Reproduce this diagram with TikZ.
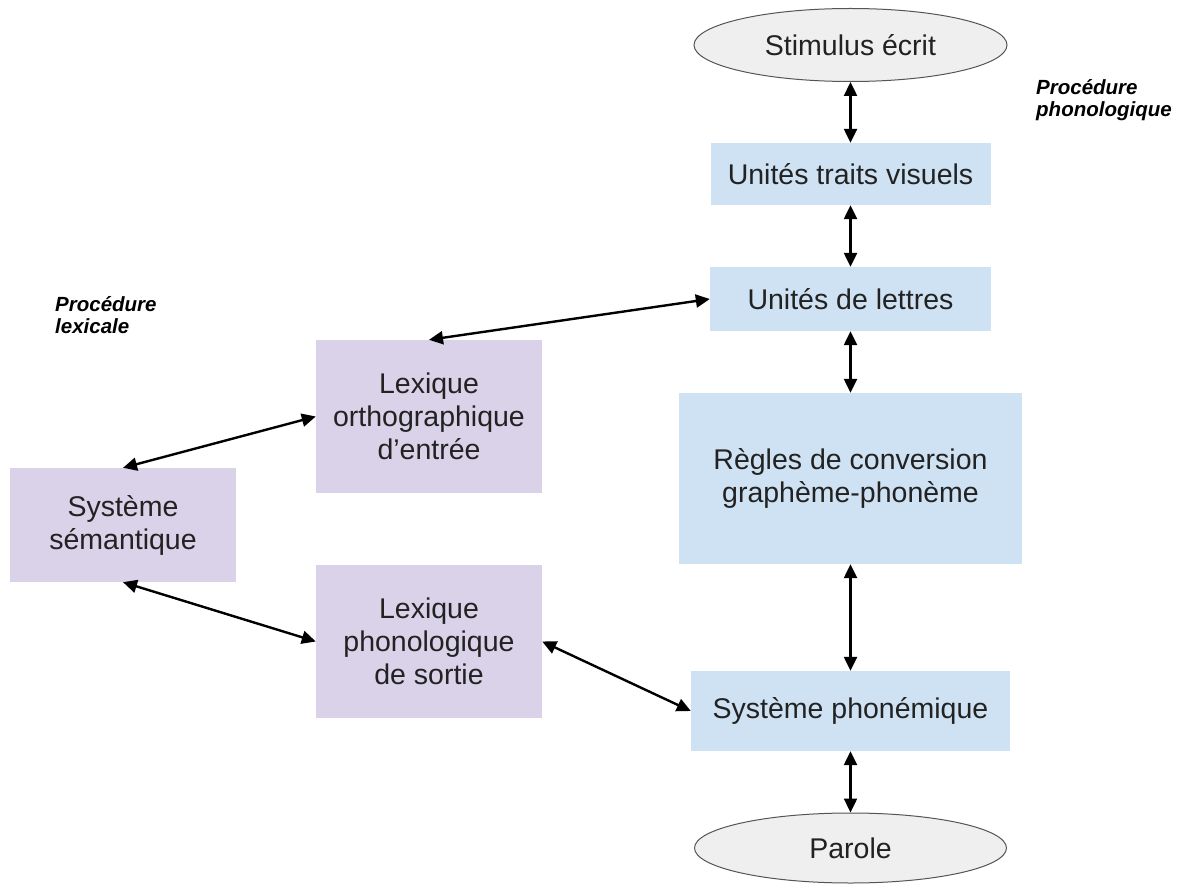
\documentclass[tikz,border=0pt]{standalone}
\usepackage{fontspec}
\setmainfont{Liberation Sans}
\usetikzlibrary{shapes.geometric,arrows.meta}
\definecolor{bluebox}{HTML}{CFE2F3}
\definecolor{purplebox}{HTML}{D9D2E9}
\definecolor{ellfill}{HTML}{EFEFEF}
\definecolor{ellline}{HTML}{555555}
\definecolor{txt}{HTML}{222222}
\tikzset{
  every node/.style={font=\fontsize{28.5}{33}\selectfont, text=txt, align=center, inner sep=0pt},
  bluenode/.style={rectangle, fill=bluebox},
  purplenode/.style={rectangle, fill=purplebox},
  ellnode/.style={ellipse, fill=ellfill, draw=ellline, line width=1pt},
  conn/.style={line width=2.4pt, {Triangle[length=14pt,width=13pt]}-{Triangle[length=14pt,width=13pt]}},
  lbl/.style={font=\fontsize{20.5}{22}\selectfont\bfseries\itshape, align=left, text=black, anchor=north west}
}
\begin{document}
\begin{tikzpicture}[x=1pt,y=-1pt]
\useasboundingbox (0,0) rectangle (1183,885);
\fill[white] (0,0) rectangle (1183,885);
\node[ellnode, minimum width=313pt, minimum height=73pt] (stim) at (850.5,45) {Stimulus écrit};
\node[bluenode, minimum width=280pt, minimum height=62pt] (utv) at (850.5,174) {Unités traits visuels};
\node[bluenode, minimum width=281pt, minimum height=64pt] (ul) at (850.5,299) {Unités de lettres};
\node[bluenode, minimum width=343pt, minimum height=171pt] (regles) at (850.5,478.5) {Règles de conversion\\graphème-phonème};
\node[bluenode, minimum width=319pt, minimum height=80pt] (sphon) at (850.5,711) {Système phonémique};
\node[ellnode, minimum width=312pt, minimum height=70pt] (parole) at (850.5,848) {Parole};
\node[purplenode, minimum width=226pt, minimum height=153pt] (lortho) at (429,416.5) {Lexique\\orthographique\\d’entrée};
\node[purplenode, minimum width=226pt, minimum height=114pt] (ssem) at (123,525) {Système\\sémantique};
\node[purplenode, minimum width=226pt, minimum height=153pt] (lphon) at (429,641.5) {Lexique\\phonologique\\de sortie};
\node[lbl] (lphono) at (1036,79) {Procédure\\phonologique};
\node[lbl] (llex) at (55,296) {Procédure\\lexicale};
\draw[conn] (stim.south) -- (utv.north);
\draw[conn] (utv.south) -- (ul.north);
\draw[conn] (ul.south) -- (regles.north);
\draw[conn] (regles.south) -- (sphon.north);
\draw[conn] (sphon.south) -- (parole.north);
\draw[conn] (ul.west) -- (lortho.north);
\draw[conn] (lortho.west) -- (ssem.north);
\draw[conn] (ssem.south) -- (lphon.west);
\draw[conn] (lphon.east) -- (sphon.west);
\end{tikzpicture}
\end{document}
